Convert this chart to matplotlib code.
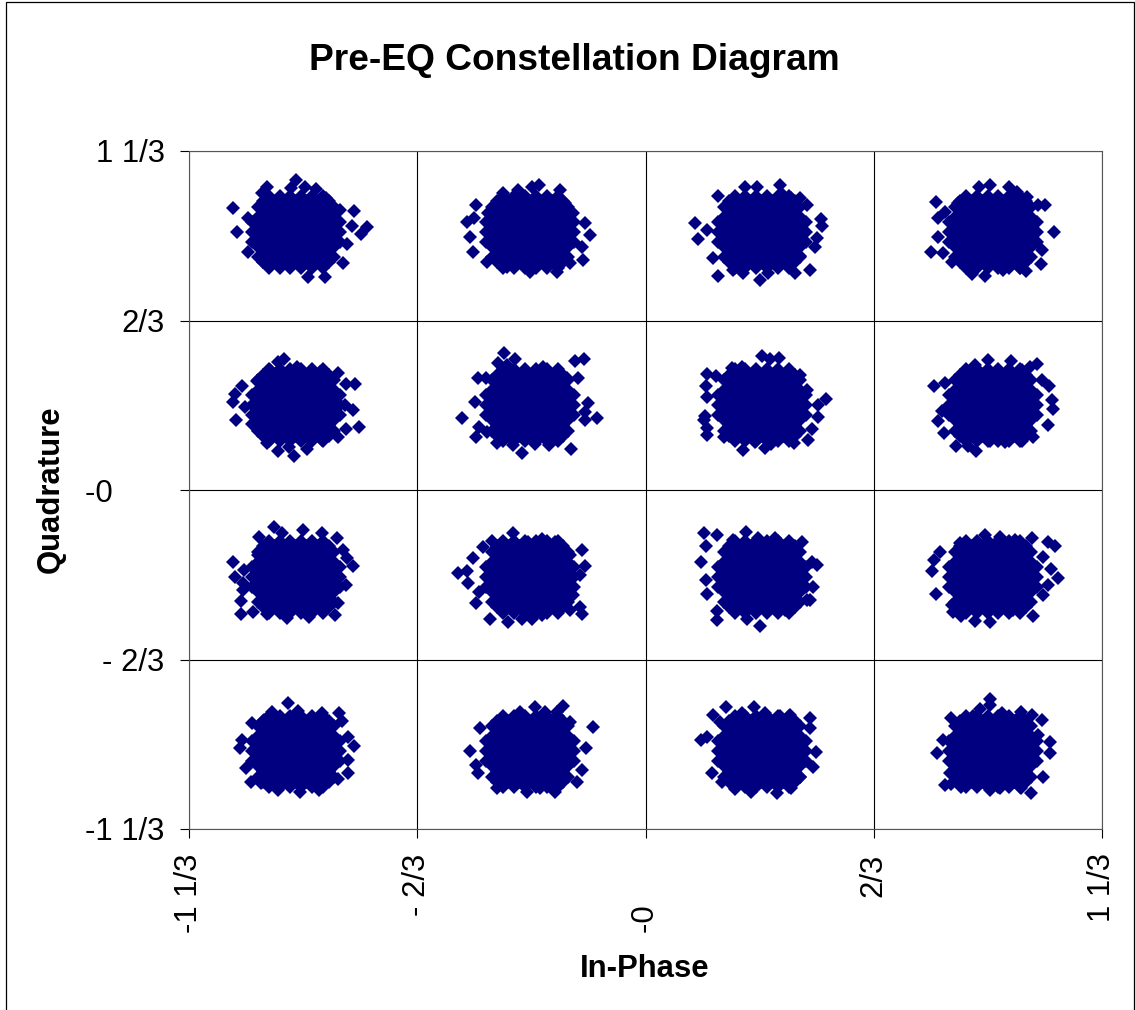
#!/usr/bin/env python3
import matplotlib
matplotlib.use("Agg")
import matplotlib.pyplot as plt
from matplotlib.patches import Rectangle

plt.rcParams["font.family"] = ["Liberation Sans", "DejaVu Sans"]

W, H = 1135, 1010

title = "Pre-EQ Constellation Diagram"
tick_vals = [-4/3, -2/3, 0, 2/3, 4/3]
tick_text = ["-1 1/3", "- 2/3", "-0\u00a0\u00a0\u00a0\u00a0\u00a0\u00a0", "2/3", "1 1/3"]

# centre of each cloud
centre_i = [-1.021, -0.337, 0.340, 1.015]
centre_q = [1.015, 0.334, -0.342, -1.027]

# the middle of a cloud is solid colour and single points can't be read there,
# so the same estimated offsets are used for all of them. outer points are per cloud
core_q = [0.0, 0.02, -0.02, 0.04, -0.04, 0.06, -0.06, 0.08, -0.08, 0.10, -0.10, 0.12, -0.12, 0.14, -0.14]
core_i = [
    [-0.128, -0.096, -0.064, -0.032, 0.0, 0.032, 0.064, 0.096, 0.128],
    [-0.112, -0.08, -0.048, -0.016, 0.016, 0.048, 0.08, 0.112],
    [-0.112, -0.08, -0.048, -0.016, 0.016, 0.048, 0.08, 0.112],
    [-0.128, -0.096, -0.064, -0.032, 0.0, 0.032, 0.064, 0.096, 0.128],
    [-0.128, -0.096, -0.064, -0.032, 0.0, 0.032, 0.064, 0.096, 0.128],
    [-0.112, -0.08, -0.048, -0.016, 0.016, 0.048, 0.08, 0.112],
    [-0.112, -0.08, -0.048, -0.016, 0.016, 0.048, 0.08, 0.112],
    [-0.096, -0.064, -0.032, 0.0, 0.032, 0.064, 0.096],
    [-0.096, -0.064, -0.032, 0.0, 0.032, 0.064, 0.096],
    [-0.112, -0.08, -0.048, -0.016, 0.016, 0.048, 0.08, 0.112],
    [-0.112, -0.08, -0.048, -0.016, 0.016, 0.048, 0.08, 0.112],
    [-0.096, -0.064, -0.032, 0.0, 0.032, 0.064, 0.096],
    [-0.096, -0.064, -0.032, 0.0, 0.032, 0.064, 0.096],
    [-0.08, -0.048, -0.016, 0.016, 0.048, 0.08],
    [-0.08, -0.048, -0.016, 0.016, 0.048, 0.08],
]

i_11 = [-1.205, -1.193, -1.105, -1.12, -1.021, -1.035, -0.994, -0.962, -0.933, -0.851, -0.813, -0.831, -0.857, -0.872, -0.883, -0.936, -0.985, -1.161, -1.161, -1.117, -1.132, -1.068, -0.892]
q_11 = [1.109, 1.014, 1.191, 1.167, 1.218, 1.187, 1.191, 1.183, 1.148, 1.096, 1.034, 1.006, 1.038, 0.967, 0.892, 0.837, 0.837, 0.935, 1.069, 0.896, 0.982, 0.884, 1.1]
i_12 = [-0.495, -0.521, -0.501, -0.46, -0.513, -0.504, -0.463, -0.416, -0.372, -0.331, -0.311, -0.25, -0.235, -0.177, -0.162, -0.185, -0.182, -0.22, -0.258, -0.337, -0.404, -0.212]
q_12 = [1.12, 1.053, 1.069, 1.089, 0.994, 0.935, 0.896, 1.167, 1.179, 1.191, 1.199, 1.179, 1.128, 1.049, 1.002, 0.955, 0.904, 0.892, 0.857, 0.857, 0.876, 1.089]
i_13 = [0.212, 0.145, 0.179, 0.153, 0.197, 0.212, 0.255, 0.285, 0.334, 0.358, 0.436, 0.48, 0.451, 0.495, 0.501, 0.515, 0.512, 0.472, 0.451, 0.425, 0.393, 0.326, 0.291, 0.402]
q_13 = [1.155, 1.049, 1.022, 0.986, 0.912, 0.841, 0.865, 0.853, 0.825, 0.853, 0.853, 0.865, 0.92, 0.955, 0.99, 1.038, 1.065, 1.12, 1.148, 1.148, 1.199, 1.191, 1.191, 1.159]
i_14 = [0.848, 0.854, 0.854, 0.834, 0.869, 0.895, 0.939, 0.953, 0.991, 1.044, 1.094, 1.111, 1.155, 1.158, 1.193, 1.167, 1.146, 1.114, 1.085, 1.062, 1.006, 0.974, 0.913, 0.875]
q_14 = [1.132, 1.069, 0.994, 0.935, 0.931, 0.896, 0.884, 0.849, 0.841, 0.865, 0.872, 0.861, 0.888, 0.943, 1.014, 1.12, 1.12, 1.152, 1.171, 1.191, 1.199, 1.191, 1.128, 1.093]

i_21 = [-1.056, -1.073, -1.096, -1.018, -1.134, -1.178, -1.199, -1.205, -1.17, -1.196, -1.149, -1.105, -1.073, -1.026, -1.041, -0.989, -0.945, -0.898, -0.874, -0.836, -0.854, -0.877, -0.848, -0.874, -0.898, -0.951]
q_21 = [0.515, 0.503, 0.472, 0.483, 0.428, 0.409, 0.377, 0.346, 0.326, 0.275, 0.259, 0.185, 0.153, 0.134, 0.169, 0.161, 0.197, 0.208, 0.24, 0.248, 0.314, 0.334, 0.417, 0.417, 0.46, 0.464]
i_22 = [-0.413, -0.381, -0.431, -0.404, -0.489, -0.466, -0.536, -0.498, -0.486, -0.495, -0.463, -0.434, -0.387, -0.361, -0.323, -0.282, -0.255, -0.218, -0.177, -0.142, -0.168, -0.177, -0.197, -0.206, -0.18, -0.299, -0.229]
q_22 = [0.538, 0.515, 0.499, 0.491, 0.44, 0.44, 0.283, 0.346, 0.248, 0.208, 0.228, 0.185, 0.177, 0.145, 0.181, 0.177, 0.2, 0.161, 0.275, 0.283, 0.342, 0.307, 0.44, 0.507, 0.515, 0.483, 0.44]
i_23 = [0.34, 0.39, 0.364, 0.253, 0.282, 0.179, 0.206, 0.176, 0.179, 0.174, 0.17, 0.179, 0.179, 0.229, 0.285, 0.32, 0.349, 0.366, 0.434, 0.474, 0.486, 0.504, 0.527, 0.504, 0.451, 0.472]
q_23 = [0.527, 0.519, 0.515, 0.479, 0.483, 0.456, 0.448, 0.409, 0.365, 0.291, 0.275, 0.244, 0.216, 0.208, 0.157, 0.189, 0.165, 0.181, 0.185, 0.197, 0.24, 0.287, 0.358, 0.334, 0.452, 0.393]
i_24 = [0.842, 0.875, 0.866, 0.854, 0.872, 0.907, 0.942, 0.965, 0.927, 1.006, 1.05, 1.1, 1.132, 1.175, 1.19, 1.187, 1.178, 1.158, 1.143, 1.123, 1.067, 1.0, 0.962, 1.1]
q_24 = [0.409, 0.421, 0.31, 0.271, 0.224, 0.173, 0.173, 0.153, 0.224, 0.193, 0.189, 0.193, 0.208, 0.255, 0.318, 0.354, 0.409, 0.432, 0.495, 0.483, 0.507, 0.511, 0.491, 0.472]

i_31 = [-1.085, -1.129, -1.061, -1.0, -0.945, -0.901, -0.884, -1.205, -1.172, -1.199, -1.175, -1.175, -1.181, -1.181, -1.146, -1.047, -0.983, -0.907, -0.898, -0.874, -0.854, -0.872, -1.132, -1.105]
q_31 = [-0.145, -0.185, -0.169, -0.157, -0.169, -0.189, -0.236, -0.283, -0.314, -0.342, -0.365, -0.393, -0.436, -0.487, -0.479, -0.503, -0.499, -0.491, -0.444, -0.373, -0.299, -0.267, -0.255, -0.487]
i_32 = [-0.387, -0.448, -0.475, -0.504, -0.548, -0.521, -0.518, -0.486, -0.495, -0.454, -0.402, -0.361, -0.331, -0.302, -0.22, -0.185, -0.191, -0.212, -0.191, -0.177, -0.185, -0.22, -0.264, -0.302, -0.343]
q_32 = [-0.169, -0.2, -0.224, -0.267, -0.326, -0.318, -0.365, -0.401, -0.444, -0.507, -0.519, -0.507, -0.507, -0.491, -0.472, -0.487, -0.46, -0.413, -0.334, -0.299, -0.236, -0.255, -0.204, -0.193, -0.204]
i_33 = [0.171, 0.209, 0.176, 0.293, 0.162, 0.176, 0.179, 0.209, 0.209, 0.296, 0.334, 0.407, 0.472, 0.489, 0.501, 0.457, 0.378, 0.328, 0.255, 0.48, 0.255, 0.486]
q_33 = [-0.169, -0.177, -0.22, -0.165, -0.283, -0.354, -0.409, -0.476, -0.511, -0.507, -0.534, -0.472, -0.432, -0.381, -0.295, -0.204, -0.189, -0.189, -0.197, -0.432, -0.472, -0.283]
i_34 = [0.86, 0.842, 0.837, 0.848, 0.898, 0.921, 0.962, 1.006, 1.132, 1.161, 1.175, 1.205, 1.184, 1.161, 1.196, 1.175, 1.129, 1.079, 1.035, 0.991, 0.918, 1.073, 0.895]
q_34 = [-0.244, -0.275, -0.318, -0.409, -0.479, -0.495, -0.515, -0.519, -0.495, -0.413, -0.373, -0.346, -0.31, -0.263, -0.22, -0.204, -0.189, -0.197, -0.185, -0.177, -0.208, -0.472, -0.452]

i_41 = [-1.044, -1.09, -1.015, -0.945, -0.895, -0.886, -1.114, -1.149, -1.178, -0.869, -0.851, -0.869, -0.869, -0.898, -0.953, -1.009, -1.073, -1.123, -1.152, -1.166, -1.184]
q_41 = [-0.837, -0.872, -0.869, -0.876, -0.876, -0.908, -0.904, -0.916, -0.983, -0.971, -1.006, -1.061, -1.112, -1.136, -1.179, -1.187, -1.179, -1.151, -1.148, -1.093, -1.014]
i_42 = [-0.323, -0.241, -0.258, -0.153, -0.366, -0.416, -0.483, -0.513, -0.495, -0.489, -0.434, -0.346, -0.264, -0.255, -0.2, -0.185, -0.174, -0.22, -0.293, -0.308]
q_42 = [-0.853, -0.849, -0.872, -0.931, -0.872, -0.892, -0.935, -1.026, -1.081, -1.112, -1.171, -1.187, -1.187, -1.151, -1.148, -1.1, -1.014, -0.912, -0.872, -1.171]
i_43 = [0.235, 0.317, 0.197, 0.218, 0.282, 0.162, 0.179, 0.194, 0.223, 0.261, 0.308, 0.384, 0.425, 0.451, 0.489, 0.498, 0.48, 0.48, 0.422, 0.393, 0.349]
q_43 = [-0.853, -0.853, -0.884, -0.912, -0.876, -0.983, -0.971, -1.112, -1.148, -1.175, -1.187, -1.191, -1.171, -1.128, -1.089, -1.03, -0.935, -0.896, -0.884, -0.888, -0.876]
i_44 = [1.006, 1.006, 0.977, 0.956, 0.892, 1.097, 1.129, 1.158, 1.146, 1.181, 1.181, 1.161, 1.126, 1.097, 1.035, 1.006, 0.921, 0.892, 0.875, 0.889, 0.851, 0.869, 1.041]
q_44 = [-0.821, -0.845, -0.861, -0.888, -0.896, -0.872, -0.884, -0.904, -0.963, -0.99, -1.034, -1.128, -1.191, -1.171, -1.171, -1.179, -1.167, -1.156, -1.159, -1.112, -1.034, -0.983, -0.876]

outer_i = [[i_11, i_12, i_13, i_14], [i_21, i_22, i_23, i_24], [i_31, i_32, i_33, i_34], [i_41, i_42, i_43, i_44]]
outer_q = [[q_11, q_12, q_13, q_14], [q_21, q_22, q_23, q_24], [q_31, q_32, q_33, q_34], [q_41, q_42, q_43, q_44]]

fig = plt.figure(figsize=(W / 100, H / 100), dpi=100)
ax = fig.add_axes([189 / W, 1 - 829 / H, (1102 - 189) / W, (829 - 151) / H])

navy = "#000080"
for r in range(4):
    for c in range(4):
        xs = list(outer_i[r][c])
        ys = list(outer_q[r][c])
        for q, row in zip(core_q, core_i):
            for i in row:
                xs.append(centre_i[c] + i)
                ys.append(centre_q[r] + q)
        ax.plot(xs, ys, ls="none", marker="D", ms=7.2, mfc=navy, mew=0, zorder=3)

ax.set_xlim(-4/3, 4/3)
ax.set_ylim(-4/3, 4/3)
ax.set_xticks(tick_vals)
ax.set_yticks(tick_vals)
ax.set_xticklabels(tick_text, rotation=90, fontsize=22.4)
ax.set_yticklabels(tick_text, fontsize=22.4)
ax.tick_params(axis="both", length=6.5, width=0.8, color="black")
ax.tick_params(axis="x", pad=11)
ax.tick_params(axis="y", pad=11)
ax.grid(True, color="black", lw=0.8)
ax.set_axisbelow(True)
for s in ax.spines.values():
    s.set_linewidth(0.8)
    s.set_color("#555555")

fig.text(574 / W, 1 - 60 / H, title, fontsize=26.7, fontweight="bold", ha="center", va="center")
fig.text(645 / W, 1 - 969 / H, "In-Phase", fontsize=22.4, fontweight="bold", ha="center", va="center")
fig.text(51 / W, 1 - 489 / H, "Quadrature", fontsize=22.4, fontweight="bold", rotation=90, ha="center", va="center")

# chart area border, runs off the bottom of the image
fig.add_artist(Rectangle((5.5 / W, -0.05), (1134 - 5.5) / W, 1.05 - 1.5 / H, transform=fig.transFigure,
                         fill=False, ec="black", lw=0.9))

fig.savefig("out.png", dpi=100)
